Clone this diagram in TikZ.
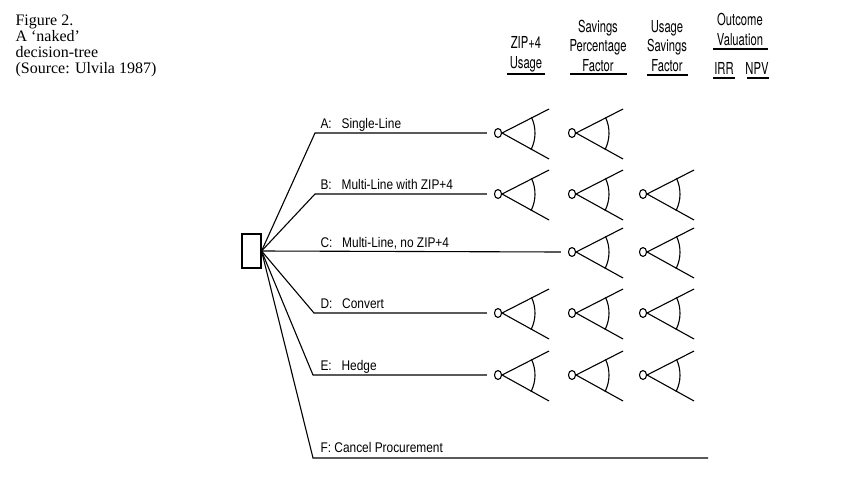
\documentclass[tikz,border=0pt]{standalone}
\usepackage{fontspec}
\setmainfont{Liberation Serif}
\newfontfamily\hdrfont[FakeStretch=0.68]{TeX Gyre Heros}
\newfontfamily\lblfont[FakeStretch=0.85]{Liberation Sans}
\usetikzlibrary{shapes.geometric}
\newcommand\chancefan[1]{%
  \draw (#1.east) -- ++(47,-24);
  \draw (#1.east) -- ++(47,26);
  \draw ([shift={(-25:37)}]#1.center) arc[start angle=-25,end angle=27,radius=37];}
\begin{document}
\begin{tikzpicture}[x=1pt,y=-1pt,line width=1.1pt,
  hdr/.style={font=\hdrfont\fontsize{16.5}{19.5}\selectfont, align=center, anchor=base, inner sep=0},
  lbl/.style={font=\lblfont\fontsize{14}{16}\selectfont, anchor=base west, inner sep=0},
  chance/.style={draw, ellipse, minimum width=7pt, minimum height=9pt, inner sep=0, line width=1.1pt},
  decbox/.style={draw, rectangle, minimum width=19pt, minimum height=34pt, inner sep=0},
  caption/.style={font=\fontsize{16}{16}\selectfont, align=left, anchor=north west, inner sep=0},
  uline/.style={line width=1.3pt}]
\useasboundingbox (0,0) rectangle (846,477);

% caption
\node[caption] (cap) at (15,14) {Figure 2.\\A ‘naked’\\decision-tree\\(Source: Ulvila 1987)};

% column headers (base anchor = baseline of last line)
\node[hdr] (h1) at (526,68) {ZIP+4\\Usage};
\node[hdr] (h2) at (598,71) {Savings\\Percentage\\Factor};
\node[hdr] (h3) at (667,71) {Usage\\Savings\\Factor};
\node[hdr] (h4) at (740,45) {Outcome\\Valuation};
\node[hdr] (h5) at (724,74) {IRR};
\node[hdr] (h6) at (757,74) {NPV};
\draw[uline] (507,74) -- (545,74);
\draw[uline] (570,74) -- (627,74);
\draw[uline] (647,75) -- (688,75);
\draw[uline] (713,49) -- (768,49);
\draw[uline] (713,78) -- (735,78);
\draw[uline] (747,78) -- (769,78);

% decision node
\node[decbox] (dec) at (251.5,251) {};

% branch corners
\coordinate (cA) at (315,133);
\coordinate (cB) at (315,194);
\coordinate (cD) at (314,313);
\coordinate (cE) at (313,375);
\coordinate (cF) at (313,458);
\coordinate (fEnd) at (708,458);

% chance nodes
\node[chance] (a1) at (498,133) {};
\node[chance] (a2) at (572,133) {};
\node[chance] (b1) at (498,194) {};
\node[chance] (b2) at (572,194) {};
\node[chance] (b3) at (643,194) {};
\node[chance] (c2) at (572,252) {};
\node[chance] (c3) at (643,252) {};
\node[chance] (d1) at (498,313) {};
\node[chance] (d2) at (572,313) {};
\node[chance] (d3) at (643,313) {};
\node[chance] (e1) at (498,375) {};
\node[chance] (e2) at (572,375) {};
\node[chance] (e3) at (643,375) {};

\foreach \n in {a1,a2,b1,b2,b3,c2,c3,d1,d2,d3,e1,e2,e3} {\chancefan{\n}}

% branches
\draw (dec.east) -- (cA) -- ([xshift=-7pt]a1.west);
\draw (dec.east) -- (cB) -- ([xshift=-7pt]b1.west);
\draw (dec.east) -- ([xshift=-7pt]c2.west);
\draw (dec.east) -- (cD) -- ([xshift=-7pt]d1.west);
\draw (dec.east) -- (cE) -- ([xshift=-7pt]e1.west);
\draw (dec.east) -- (cF) -- (fEnd);

% branch labels
\node[lbl] (lA) at (320,128) {A:\hspace{0.7em}Single-Line};
\node[lbl] (lB) at (320,189) {B:\hspace{0.7em}Multi-Line with ZIP+4};
\node[lbl] (lC) at (320,247) {C:\hspace{0.7em}Multi-Line, no ZIP+4};
\node[lbl] (lD) at (320,308) {D:\hspace{0.7em}Convert};
\node[lbl] (lE) at (320,370) {E:\hspace{0.7em}Hedge};
\node[lbl] (lF) at (320,452) {F: Cancel Procurement};
\end{tikzpicture}
\end{document}
